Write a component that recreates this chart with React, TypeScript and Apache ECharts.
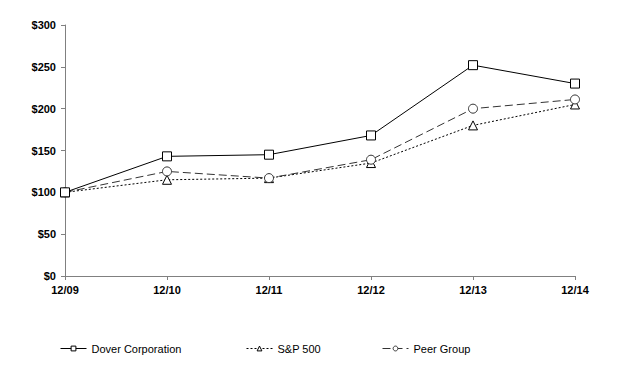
import React, { useEffect, useRef } from "react";
import * as echarts from "echarts";

const categories = ["12/09", "12/10", "12/11", "12/12", "12/13", "12/14"];
const dover = [100, 143, 145, 168, 252, 230];
const sp500 = [100, 115, 117, 135, 180, 205];
const peer = [100, 125, 117, 139, 200, 211];
const yTicks = [0, 50, 100, 150, 200, 250, 300];

export default function App() {
  const ref = useRef<HTMLDivElement>(null);
  useEffect(() => {
    if (!ref.current) return;
    const chart = echarts.init(ref.current, null, { renderer: "svg" });
    const legendText = {
      fontFamily: "'Liberation Sans', Arial, sans-serif",
      fontSize: 11,
      color: "#000",
    };
    const legendCommon = {
      top: 343,
      itemWidth: 26,
      itemHeight: 6,
      itemGap: 0,
      textStyle: legendText,
      padding: 0,
      itemStyle: { borderWidth: 1 },
      lineStyle: { width: 1 },
    };
    chart.setOption({
      animation: false,
      backgroundColor: "#fff",
      grid: { left: 65, right: 59, top: 25, bottom: 95, containLabel: false },
      legend: [
        { ...legendCommon, left: 60, data: ["Dover Corporation"] },
        { ...legendCommon, left: 246, data: ["S&P 500"] },
        { ...legendCommon, left: 382, data: ["Peer Group"] },
      ],
      xAxis: {
        type: "category",
        data: categories,
        boundaryGap: false,
        axisLine: { lineStyle: { color: "#808080", width: 1 } },
        axisTick: { show: true, length: 4, lineStyle: { color: "#808080" } },
        axisLabel: {
          color: "#000",
          fontWeight: "bold",
          fontSize: 11,
          fontFamily: "'Liberation Sans', Arial, sans-serif",
          margin: 8,
        },
        splitLine: { show: false },
      },
      yAxis: {
        type: "value",
        min: yTicks[0],
        max: yTicks[yTicks.length - 1],
        interval: 50,
        axisLine: { show: true, lineStyle: { color: "#808080", width: 1 } },
        axisTick: { show: true, length: 4, lineStyle: { color: "#808080" } },
        axisLabel: {
          color: "#000",
          fontWeight: "bold",
          fontSize: 11,
          fontFamily: "'Liberation Sans', Arial, sans-serif",
          margin: 9,
          formatter: (v: number) => "$" + v,
        },
        splitLine: { show: false },
      },
      series: [
        {
          name: "Dover Corporation",
          type: "line",
          data: dover,
          symbol: "rect",
          symbolSize: 9,
          itemStyle: { color: "#fff", borderColor: "#000", borderWidth: 1 },
          lineStyle: { color: "#000", width: 1, type: "solid" },
          z: 3,
        },
        {
          name: "S&P 500",
          type: "line",
          data: sp500,
          symbol: "triangle",
          symbolSize: 9,
          itemStyle: { color: "#fff", borderColor: "#000", borderWidth: 1 },
          lineStyle: { color: "#000", width: 1, type: [2, 2] },
          z: 2,
        },
        {
          name: "Peer Group",
          type: "line",
          data: peer,
          symbol: "circle",
          symbolSize: 9,
          itemStyle: { color: "#fff", borderColor: "#333", borderWidth: 1 },
          lineStyle: { color: "#333", width: 1, type: [8, 4] },
          z: 2,
        },
      ],
    });
    return () => chart.dispose();
  }, []);
  return <div ref={ref} style={{ width: 634, height: 371, position: "absolute", left: 0, top: 0 }} />;
}
